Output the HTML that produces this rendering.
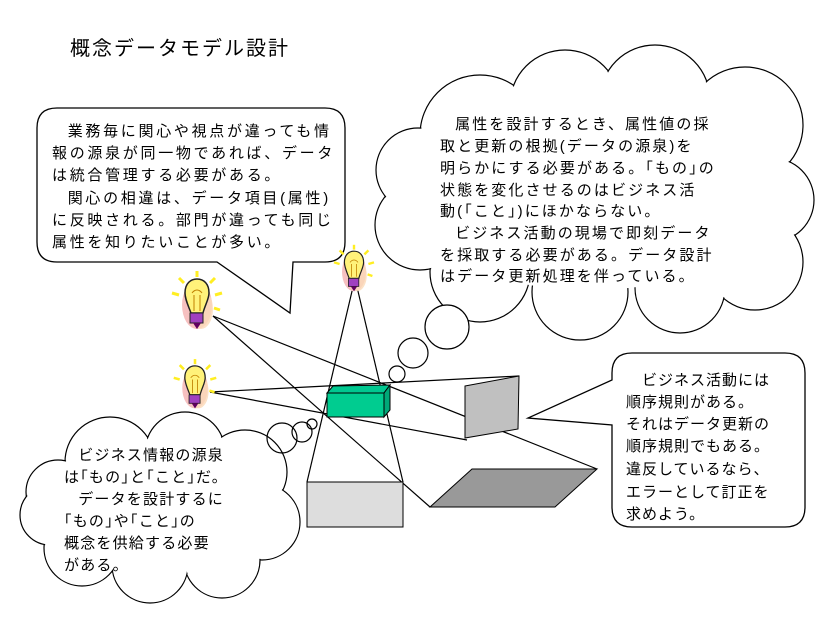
<!DOCTYPE html>
<html><head><meta charset="utf-8"><style>
body{margin:0;background:#fff}
svg text{font-family:"Liberation Sans","Noto Sans CJK JP",sans-serif;font-size:15px;fill:#000}
.a text{letter-spacing:2.7px}
.b text{letter-spacing:2.1px}
.c text{letter-spacing:1.2px}
.d text{letter-spacing:1px}
</style></head><body>
<svg width="820" height="615" viewBox="0 0 820 615" xmlns="http://www.w3.org/2000/svg">
<defs>
<g id="bulb">
<ellipse cx="0" cy="0" rx="15" ry="24" fill="#f6c0c0"/>
<ellipse cx="4" cy="4" rx="12" ry="20" fill="#fbd9b8" opacity=".8"/>
<g stroke="#ffee22" stroke-width="3">
<line x1="0" y1="-28" x2="0" y2="-34"/><line x1="-13" y1="-22" x2="-18" y2="-27"/><line x1="13" y1="-22" x2="18" y2="-27"/>
<line x1="-18" y1="-10" x2="-25" y2="-12"/><line x1="18" y1="-10" x2="25" y2="-12"/><line x1="17" y1="3" x2="23" y2="5"/>
</g>
<path d="M-6,8 C-9,0 -12,-6 -12,-12 C-12,-22 -6,-26 0,-26 C7,-26 12,-21 12,-12 C12,-6 8,0 6,8 Z" fill="#fff27a" stroke="#222" stroke-width="1.5"/>
<path d="M-3,6 L-3,-10 M3,6 L3,-10 M-5,-12 C-2,-16 2,-16 5,-12" stroke="#c08000" fill="none"/>
<rect x="-7" y="8" width="13" height="10" fill="#a040c0" stroke="#222"/>
<path d="M-4,18 L0,24 L4,18 Z" fill="#600060"/>
</g>
</defs>
<text x="70" y="55" style="font-size:20px;letter-spacing:2px">概念データモデル設計</text>

<path d="M57,108 H325 Q345,108 345,128 V242 Q345,262 325,262 H293 L290,313 L217,262 H57 Q37,262 37,242 V128 Q37,108 57,108 Z" fill="#fff" stroke="#000" stroke-width="1.3"/>
<g class="a">
<text x="50" y="136">　業務毎に関心や視点が違っても情</text>
<text x="52" y="158">報の源泉が同一物であれば、データ</text>
<text x="52" y="180">は統合管理する必要がある。</text>
<text x="50" y="203">　関心の相違は、データ項目(属性)</text>
<text x="52" y="225">に反映される。部門が違っても同じ</text>
<text x="52" y="247">属性を知りたいことが多い。</text>
</g>

<g stroke="#000" stroke-width="1.2" fill="none">
<line x1="213" y1="316" x2="597" y2="469"/>
<line x1="213" y1="316" x2="430" y2="507"/>
<line x1="210" y1="392" x2="519" y2="376"/>
<line x1="210" y1="392" x2="467" y2="440"/>
<line x1="353" y1="287" x2="307" y2="482"/>
<line x1="357" y1="287" x2="403" y2="482"/>
</g>
<polygon points="430,507 472,469 597,469 555,507" fill="#999" stroke="#000"/>
<polygon points="465,386 519,376 518,429 465,438" fill="#c0c0c0" stroke="#000"/>
<rect x="307" y="482" width="96" height="45" fill="#ddd" stroke="#000"/>
<polygon points="327,393 333,386 390,385 384,393" fill="#00c890" stroke="#000"/>
<polygon points="384,393 390,385 390,410 384,417" fill="#00a878" stroke="#000"/>
<rect x="327" y="393" width="57" height="24" fill="#00cc90" stroke="#000"/>

<g stroke="#000" stroke-width="1.2" fill="#fff">
<circle cx="480" cy="135" r="60"/><circle cx="565" cy="105" r="55"/><circle cx="655" cy="100" r="55"/><circle cx="745" cy="125" r="58"/>
<circle cx="772" cy="200" r="42"/><circle cx="755" cy="262" r="48"/><circle cx="680" cy="288" r="45"/><circle cx="580" cy="292" r="48"/>
<circle cx="480" cy="272" r="50"/><circle cx="420" cy="225" r="45"/><circle cx="418" cy="170" r="42"/>
</g>
<g fill="#fff">
<circle cx="480" cy="135" r="59"/><circle cx="565" cy="105" r="54"/><circle cx="655" cy="100" r="54"/><circle cx="745" cy="125" r="57"/>
<circle cx="772" cy="200" r="41"/><circle cx="755" cy="262" r="47"/><circle cx="680" cy="288" r="44"/><circle cx="580" cy="292" r="47"/>
<circle cx="480" cy="272" r="49"/><circle cx="420" cy="225" r="44"/><circle cx="418" cy="170" r="41"/>
<ellipse cx="590" cy="195" rx="190" ry="95"/>
</g>
<g class="b">
<text x="438" y="129">　属性を設計するとき、属性値の採</text>
<text x="440" y="151">取と更新の根拠(データの源泉)を</text>
<text x="440" y="173">明らかにする必要がある。｢もの｣の</text>
<text x="440" y="195">状態を変化させるのはビジネス活</text>
<text x="440" y="216">動(｢こと｣)にほかならない。</text>
<text x="438" y="238">　ビジネス活動の現場で即刻データ</text>
<text x="440" y="260">を採取する必要がある。データ設計</text>
<text x="440" y="281">はデータ更新処理を伴っている。</text>
</g>
<g stroke="#000" stroke-width="1.2" fill="#fff">
<circle cx="447" cy="327" r="22"/><circle cx="413" cy="353" r="15"/><circle cx="397" cy="374" r="8"/>
</g>

<g stroke="#000" stroke-width="1.2" fill="#fff">
<circle cx="110" cy="462" r="45"/><circle cx="185" cy="452" r="40"/><circle cx="245" cy="472" r="42"/><circle cx="262" cy="522" r="38"/>
<circle cx="222" cy="560" r="38"/><circle cx="150" cy="565" r="38"/><circle cx="82" cy="548" r="38"/><circle cx="58" cy="492" r="32"/><circle cx="50" cy="515" r="30"/>
</g>
<g fill="#fff">
<circle cx="110" cy="462" r="44"/><circle cx="185" cy="452" r="39"/><circle cx="245" cy="472" r="41"/><circle cx="262" cy="522" r="37"/>
<circle cx="222" cy="560" r="37"/><circle cx="150" cy="565" r="37"/><circle cx="82" cy="548" r="37"/><circle cx="58" cy="492" r="31"/><circle cx="50" cy="515" r="29"/>
<ellipse cx="160" cy="510" rx="115" ry="62"/>
</g>
<g class="c">
<text x="62" y="460">　ビジネス情報の源泉</text>
<text x="64" y="482">は｢もの｣と｢こと｣だ。</text>
<text x="62" y="504">　データを設計するに</text>
<text x="64" y="526">｢もの｣や｢こと｣の</text>
<text x="64" y="548">概念を供給する必要</text>
<text x="64" y="570">がある。</text>
</g>
<g stroke="#000" stroke-width="1.2" fill="none">
<circle cx="282" cy="438" r="15"/><circle cx="302" cy="432" r="10"/><circle cx="312" cy="424" r="5"/>
</g>

<path d="M632,353 H785 Q805,353 805,373 V507 Q805,527 785,527 H632 Q612,527 612,507 V425 L528,418 L612,380 V373 Q612,353 632,353 Z" fill="#fff" stroke="#000" stroke-width="1.3"/>
<g class="d">
<text x="626" y="385">　ビジネス活動には</text>
<text x="626" y="407">順序規則がある。</text>
<text x="626" y="429">それはデータ更新の</text>
<text x="626" y="451">順序規則でもある。</text>
<text x="626" y="474">違反しているなら、</text>
<text x="626" y="497">エラーとして訂正を</text>
<text x="626" y="519">求めよう。</text>
</g>

<use href="#bulb" x="197" y="305"/>
<use href="#bulb" x="195" y="388" transform="translate(195 388) scale(.85) translate(-195 -388)"/>
<use href="#bulb" x="354" y="272" transform="translate(354 272) scale(.8) translate(-354 -272)"/>
</svg>
</body></html>
